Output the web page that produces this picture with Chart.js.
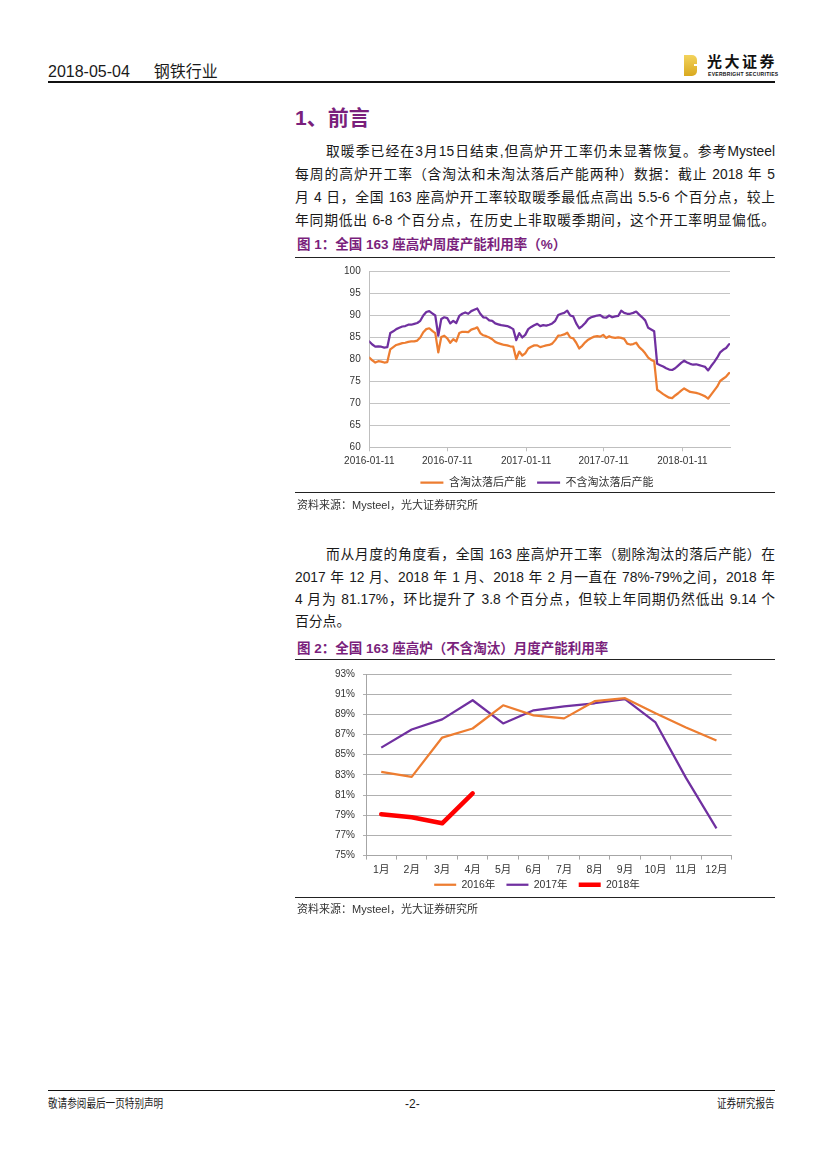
<!DOCTYPE html>
<html>
<head>
<meta charset="utf-8">
<script src="https://cdn.jsdelivr.net/npm/chart.js@4.4.1/dist/chart.umd.min.js"></script>
<style>
    body { margin: 0; background: #fff; font-family: "Liberation Sans", Arial, "Noto Sans CJK SC", sans-serif; color: #1a1a1a; }
    #page { position: relative; width: 827px; height: 1169px; overflow: hidden; background: #fff; }
    .abs { position: absolute; white-space: nowrap; }
    .rule { position: absolute; left: 295px; width: 480px; background: #222; }
    .txt { position: absolute; left: 295px; width: 480px; height: 23px; font-size: 13.8px; line-height: 23px; text-align: justify; text-align-last: justify; color: #1a1a1a; }
    .txt.first { left: 326px; width: 449px; }
    .txt.last { text-align-last: left; }
    .figTitle { position: absolute; left: 297px; font-size: 13.5px; font-weight: bold; color: #7a1f7c; white-space: nowrap; line-height: 20px; }
    .src { position: absolute; left: 297px; font-size: 11px; color: #333; line-height: 14px; white-space: nowrap; }
    canvas { position: absolute; }
</style>
</head>
<body>
<div id="page">
    <!-- cabecera -->
    <div class="abs" style="left:48px; top:61px; font-size:16px; line-height:22px;">2018-05-04<span style="margin-left:24px;">钢铁行业</span></div>
    <div class="abs" style="left:48px; top:81px; width:727px; height:1.5px; background:#111;"></div>
    <div class="abs" style="left:684px; top:55px; width:13px; height:21px; background:linear-gradient(180deg,#f3d35c,#d9a91f); border-radius:0 5px 5px 0;"></div>
    <div class="abs" style="left:694px; top:64px; width:4px; height:2px; background:#fff;"></div>
    <div class="abs" style="left:707px; top:53px; font-size:15px; font-weight:bold; letter-spacing:2.5px; line-height:18px; color:#111;">光大证券</div>
    <div class="abs" style="left:708px; top:71px; font-size:5px; font-weight:bold; letter-spacing:0.3px; line-height:6px; color:#111;">EVERBRIGHT SECURITIES</div>

    <!-- titulo -->
    <div class="abs" style="left:295px; top:105px; font-size:21px; font-weight:bold; color:#7a1f7c; line-height:26px;">1、前言</div>

    <div class="txt first" style="top:140px;">取暖季已经在3月15日结束,但高炉开工率仍未显著恢复。参考Mysteel</div>
    <div class="txt" style="top:163px;">每周的高炉开工率（含淘汰和未淘汰落后产能两种）数据：截止 2018 年 5</div>
    <div class="txt" style="top:186px;">月 4 日，全国 163 座高炉开工率较取暖季最低点高出 5.5-6 个百分点，较上</div>
    <div class="txt" style="top:209px;">年同期低出 6-8 个百分点，在历史上非取暖季期间，这个开工率明显偏低。</div>

    <div class="figTitle" style="top:235px;">图 1：全国 163 座高炉周度产能利用率（%）</div>
    <div class="rule" style="top:257px; height:1.3px;"></div>
    <canvas id="weeklyChart" width="480" height="241" style="left:297px; top:257px; width:480px; height:241px;"></canvas>
    <div class="rule" style="top:492px; height:1px;"></div>
    <div class="src" style="top:498px;">资料来源：Mysteel，光大证券研究所</div>

    <div class="txt first" style="top:543px;">而从月度的角度看，全国 163 座高炉开工率（剔除淘汰的落后产能）在</div>
    <div class="txt" style="top:566px;">2017 年 12 月、2018 年 1 月、2018 年 2 月一直在 78%-79%之间，2018 年</div>
    <div class="txt" style="top:588px;">4 月为 81.17%，环比提升了 3.8 个百分点，但较上年同期仍然低出 9.14 个</div>
    <div class="txt last" style="top:610px;">百分点。</div>

    <div class="figTitle" style="top:639px;">图 2：全国 163 座高炉（不含淘汰）月度产能利用率</div>
    <div class="rule" style="top:659px; height:1.3px;"></div>
    <canvas id="monthlyChart" width="480" height="240" style="left:297px; top:660px; width:480px; height:240px;"></canvas>
    <div class="rule" style="top:897px; height:1px;"></div>
    <div class="src" style="top:902px;">资料来源：Mysteel，光大证券研究所</div>

    <!-- pie de pagina -->
    <div class="abs" style="left:48px; top:1090px; width:727px; height:1.3px; background:#111;"></div>
    <div class="abs" style="left:48px; top:1097px; font-size:12px; line-height:14px; transform:scaleX(0.8); transform-origin:left;">敬请参阅最后一页特别声明</div>
    <div class="abs" style="left:405px; top:1097px; font-size:12px; line-height:14px;">-2-</div>
    <div class="abs" style="left:717px; top:1097px; font-size:12px; line-height:14px; transform:scaleX(0.8); transform-origin:left;">证券研究报告</div>
</div>

<script>
// Fig 1: semanas desde 2016-01-11
const dateTickDays = [0, 182, 366, 547, 731];
const dateTickLabels = ['2016-01-11', '2016-07-11', '2017-01-11', '2017-07-11', '2018-01-11'];

// 含淘汰落后产能 (weekly)
const weeklyIncl = [
    80.4, 79.8, 79.3, 79.6, 79.5, 79.3, 79.4, 82.3, 82.8, 83.3,
    83.5, 83.7, 83.8, 84.0, 84.1, 84.1, 84.3, 85.0, 86.2, 86.9,
    87.1, 86.5, 86.0, 81.6, 85.1, 85.4, 84.8, 83.8, 84.6, 84.1,
    86.0, 86.3, 86.3, 86.2, 86.8, 87.0, 87.3, 86.0, 85.5, 85.3,
    85.0, 84.6, 84.0, 83.7, 83.5, 83.3, 83.2, 83.0, 82.9, 80.1,
    81.8, 80.9, 81.4, 82.5, 82.9, 83.2, 83.2, 82.8, 83.0, 83.2,
    83.3, 83.6, 84.4, 85.4, 85.5, 85.7, 86.1, 85.0, 84.8, 83.8,
    82.5, 83.1, 83.9, 84.5, 84.9, 85.2, 85.3, 85.2, 85.6, 84.9,
    85.3, 85.0, 84.9, 85.0, 84.9, 84.7, 83.6, 83.4, 83.5, 83.8,
    82.8, 82.2, 81.4, 80.4, 79.9, 79.6, 73.1, 72.6, 72.1, 71.7,
    71.3, 71.2, 71.8, 72.3, 72.9, 73.4, 73.0, 72.6, 72.5, 72.4,
    72.2, 71.9, 71.6, 71.1, 72.0, 72.9, 73.8, 75.1, 75.6, 76.1, 76.9
];
// 不含淘汰落后产能 (weekly)
const weeklyExcl = [
    84.1, 83.4, 82.9, 83.0, 82.9, 82.7, 82.8, 86.0, 86.4, 86.9,
    87.2, 87.5, 87.6, 87.9, 87.9, 88.1, 88.3, 88.8, 90.0, 90.8,
    91.0, 90.5, 90.0, 85.4, 89.2, 89.6, 89.4, 88.2, 88.8, 88.3,
    89.9, 90.4, 90.7, 90.4, 91.0, 91.3, 91.6, 90.4, 89.6, 89.5,
    88.9, 88.8, 88.2, 88.0, 87.8, 87.7, 87.6, 87.3, 86.9, 84.4,
    86.0, 85.0, 85.6, 86.9, 87.4, 87.8, 88.1, 87.6, 87.8, 87.7,
    87.9, 88.2, 88.8, 90.1, 90.4, 90.6, 91.1, 90.0, 89.8, 88.2,
    87.1, 87.6, 88.3, 89.2, 89.6, 89.8, 90.0, 90.1, 89.6, 89.5,
    90.0, 89.6, 89.8, 89.9, 91.1, 90.6, 90.4, 90.4, 90.6, 90.9,
    90.2, 89.6, 88.9, 87.2, 86.8, 86.4, 79.0, 78.7, 78.4, 78.0,
    77.7, 77.6, 78.0, 78.6, 79.2, 79.7, 79.3, 79.0, 78.8, 78.9,
    78.7, 78.5, 78.3, 77.5, 78.5, 79.4, 80.4, 81.6, 82.2, 82.6, 83.5
];

// Fig 2: mensual
const months = ['1月', '2月', '3月', '4月', '5月', '6月', '7月', '8月', '9月', '10月', '11月', '12月'];
const rate2016 = [83.3, 82.8, 86.7, 87.6, 89.9, 88.9, 88.6, 90.3, 90.6, 89.1, 87.7, 86.4];
const rate2017 = [85.7, 87.5, 88.5, 90.4, 88.1, 89.4, 89.8, 90.1, 90.5, 88.2, 82.7, 77.7];
const rate2018 = [79.1, 78.8, 78.2, 81.17];

const FONT = '"Liberation Sans", Arial, "Noto Sans CJK SC", sans-serif';
Chart.defaults.font.family = FONT;
Chart.defaults.color = '#333';

const ORANGE = '#ED7D31';
const PURPLE = '#7030A0';

new Chart(document.getElementById('weeklyChart'), {
    type: 'line',
    data: {
        datasets: [
            {
                label: '含淘汰落后产能',
                data: weeklyIncl.map((v, i) => ({ x: i * 7, y: v })),
                borderColor: ORANGE, backgroundColor: ORANGE,
                borderWidth: 2.25, pointRadius: 0, tension: 0,
                borderJoinStyle: 'round', borderCapStyle: 'round'
            },
            {
                label: '不含淘汰落后产能',
                data: weeklyExcl.map((v, i) => ({ x: i * 7, y: v })),
                borderColor: PURPLE, backgroundColor: PURPLE,
                borderWidth: 2.25, pointRadius: 0, tension: 0,
                borderJoinStyle: 'round', borderCapStyle: 'round'
            }
        ]
    },
    options: {
        responsive: false,
        animation: false,
        layout: { padding: 0 },
        scales: {
            x: {
                type: 'linear', min: 0, max: 842,
                afterBuildTicks: s => { s.ticks = dateTickDays.map(v => ({ value: v })); },
                afterFit: s => { s.height = 18.5; },
                ticks: {
                    autoSkip: false, maxRotation: 0, padding: 4,
                    font: { size: 10 },
                    callback: (v, i) => dateTickLabels[i]
                },
                grid: { drawOnChartArea: false, tickLength: 4, color: '#bfbfbf' },
                border: { color: '#bfbfbf' }
            },
            y: {
                min: 60, max: 100,
                afterFit: s => { s.width = 72.3; },
                ticks: { stepSize: 5, padding: 8.6, font: { size: 10 } },
                grid: { color: '#c4c4c4', drawTicks: false },
                border: { color: '#bfbfbf' }
            },
            yRight: {
                position: 'right', display: true,
                afterFit: s => { s.width = 47; },
                ticks: { display: false },
                grid: { display: false },
                border: { display: false }
            }
        },
        plugins: {
            legend: {
                position: 'bottom',
                labels: {
                    usePointStyle: true, pointStyle: 'line', pointStyleWidth: 23,
                    padding: 11.2, font: { size: 11 }, color: '#333'
                }
            },
            tooltip: { enabled: false }
        }
    }
});

new Chart(document.getElementById('monthlyChart'), {
    type: 'line',
    data: {
        labels: months,
        datasets: [
            {
                label: '2016年', data: rate2016,
                borderColor: ORANGE, backgroundColor: ORANGE,
                borderWidth: 2.25, pointRadius: 0, tension: 0, borderJoinStyle: 'round'
            },
            {
                label: '2017年', data: rate2017,
                borderColor: PURPLE, backgroundColor: PURPLE,
                borderWidth: 2.25, pointRadius: 0, tension: 0, borderJoinStyle: 'round'
            },
            {
                label: '2018年', data: rate2018,
                borderColor: '#FF0000', backgroundColor: '#FF0000',
                borderWidth: 4.5, pointRadius: 0, tension: 0,
                borderJoinStyle: 'round', borderCapStyle: 'round'
            }
        ]
    },
    options: {
        responsive: false,
        animation: false,
        layout: { padding: 0 },
        scales: {
            x: {
                offset: true,
                afterFit: s => { s.height = 21.5; },
                ticks: { padding: 4.5, font: { size: 10.5 }, maxRotation: 0, autoSkip: false },
                grid: { drawOnChartArea: false, offset: true, tickLength: 4, color: '#a6a6a6' },
                border: { color: '#a6a6a6' }
            },
            y: {
                min: 75, max: 93,
                afterFit: s => { s.width = 69; },
                ticks: { stepSize: 2, padding: 8, font: { size: 10 }, callback: v => v + '%' },
                grid: { color: '#b0b0b0', tickLength: 3 },
                border: { color: '#a6a6a6' }
            },
            yRight: {
                position: 'right', display: true,
                afterFit: s => { s.width = 45.3; },
                ticks: { display: false },
                grid: { display: false },
                border: { display: false }
            }
        },
        plugins: {
            legend: {
                position: 'bottom',
                labels: {
                    usePointStyle: true, pointStyle: 'line', pointStyleWidth: 22,
                    padding: 2.4, font: { size: 10.5 }, color: '#333',
                    // espacio extra entre elementos (padding vertical pequeño)
                    generateLabels: chart => Chart.defaults.plugins.legend.labels.generateLabels(chart)
                        .map((l, i, arr) => ({ ...l, text: i < arr.length - 1 ? l.text + '   ' : l.text }))
                }
            },
            tooltip: { enabled: false }
        }
    }
});
</script>
</body>
</html>
